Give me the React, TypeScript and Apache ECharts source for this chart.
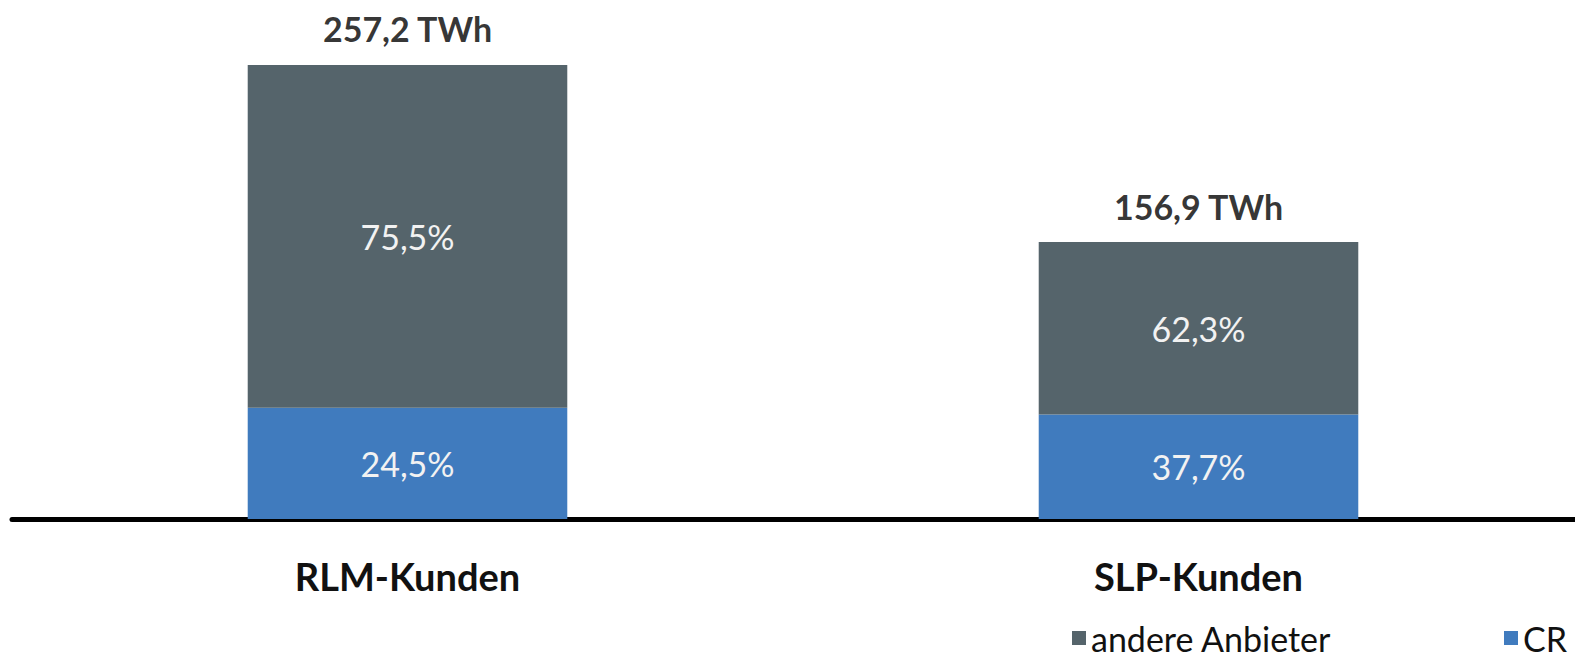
import React, { useEffect, useRef } from "react";
import * as echarts from "echarts";

const categories = ["RLM-Kunden", "SLP-Kunden"];
const totalsTWh = [257.2, 156.9];
const cr4Share = [24.5, 37.7];
const otherShare = [75.5, 62.3];
const totalLabels = ["257,2 TWh", "156,9 TWh"];
const cr4Labels = ["24,5%", "37,7%"];
const otherLabels = ["75,5%", "62,3%"];

const FONT = "Lato";
const GRAY = "#55646b";
const BLUE = "#407bbe";

export default function App() {
  const ref = useRef<HTMLDivElement>(null);
  useEffect(() => {
    document.body.style.margin = "0";
    const chart = echarts.init(ref.current!, null, { renderer: "svg" });
    const cr4Values = totalsTWh.map((t, i) => (t * cr4Share[i]) / 100);
    const otherValues = totalsTWh.map((t, i) => (t * otherShare[i]) / 100);
    const legendText = { fontFamily: FONT, fontSize: 34, color: "#111", lineHeight: 36 };
    chart.setOption({
      animation: false,
      grid: { left: 12, width: 1582, top: 60, bottom: 141 },
      xAxis: {
        type: "category",
        data: categories,
        axisLine: { lineStyle: { color: "#000", width: 5 } },
        axisTick: { show: false },
        axisLabel: {
          color: "#111",
          fontFamily: FONT,
          fontWeight: "bold",
          fontSize: 38,
          margin: 38,
        },
      },
      yAxis: {
        type: "value",
        min: 0,
        max: 260,
        show: false,
        splitLine: { show: false },
      },
      legend: [
        {
          data: ["andere Anbieter"],
          left: 1072,
          top: 620,
          padding: 0,
          icon: "rect",
          itemWidth: 14,
          itemHeight: 14,
          itemGap: 10,
          textStyle: legendText,
        },
        {
          data: ["CR 4"],
          left: 1504,
          top: 620,
          padding: 0,
          icon: "rect",
          itemWidth: 14,
          itemHeight: 14,
          itemGap: 10,
          textStyle: legendText,
        },
      ],
      series: [
        {
          name: "CR 4",
          type: "bar",
          stack: "total",
          barWidth: "40.4%",
          data: cr4Values,
          itemStyle: { color: BLUE },
          label: {
            show: true,
            position: "inside",
            color: "#f2f2f2",
            fontFamily: FONT,
            fontSize: 34,
            formatter: (p: any) => cr4Labels[p.dataIndex],
          },
        },
        {
          name: "andere Anbieter",
          type: "bar",
          stack: "total",
          data: otherValues,
          itemStyle: { color: GRAY },
          label: {
            show: true,
            position: "inside",
            color: "#f2f2f2",
            fontFamily: FONT,
            fontSize: 34,
            formatter: (p: any) => otherLabels[p.dataIndex],
          },
        },
        {
          name: "Summe",
          type: "scatter",
          data: totalsTWh,
          symbolSize: 0,
          silent: true,
          label: {
            show: true,
            position: "top",
            distance: 19,
            color: "#000",
            fontFamily: FONT,
            fontWeight: "bold",
            fontSize: 34,
            formatter: (p: any) => totalLabels[p.dataIndex],
          },
        },
      ],
    });
    return () => chart.dispose();
  }, []);
  return (
    <div style={{ width: 1575, height: 660, overflow: "hidden", position: "relative" }}>
      <div ref={ref} style={{ width: 1600, height: 660 }} />
    </div>
  );
}
